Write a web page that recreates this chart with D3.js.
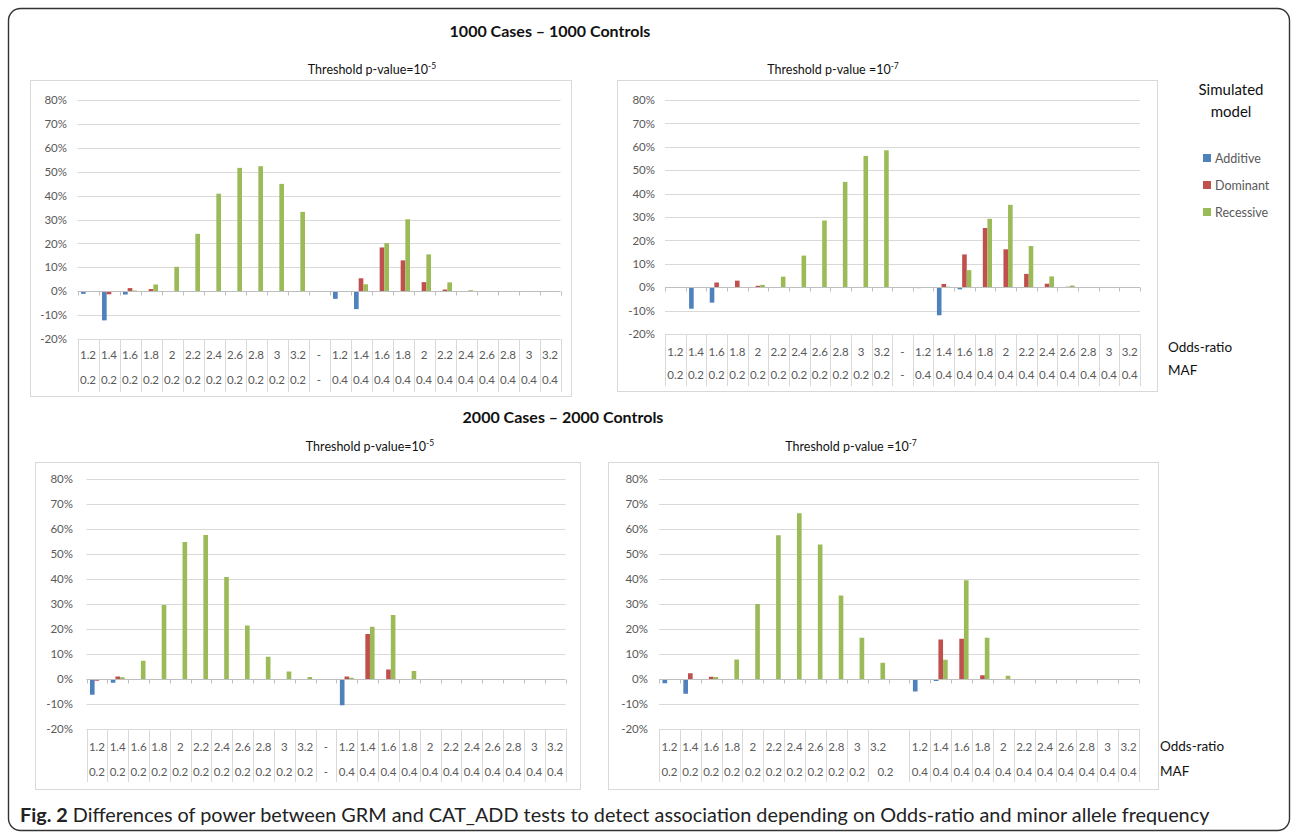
<!DOCTYPE html>
<html>
<head>
<meta charset="utf-8">
<script src="https://cdn.jsdelivr.net/npm/d3@7"></script>
<style>
  html, body { margin: 0; padding: 0; background: #fff; }
  svg { display: block; }
  text { font-family: Lato, "Open Sans", sans-serif; }
</style>
</head>
<body>
<svg id="fig" width="1292" height="835"></svg>
<script>
// ---- data (power difference, %) ----
const series = ["Additive", "Dominant", "Recessive"];
const colors = ["#4F81BD", "#C0504D", "#9BBB59"];

const oddsLabels = ["1.2","1.4","1.6","1.8","2","2.2","2.4","2.6","2.8","3","3.2","-",
                    "1.2","1.4","1.6","1.8","2","2.2","2.4","2.6","2.8","3","3.2"];
const mafLabels  = ["0.2","0.2","0.2","0.2","0.2","0.2","0.2","0.2","0.2","0.2","0.2","-",
                    "0.4","0.4","0.4","0.4","0.4","0.4","0.4","0.4","0.4","0.4","0.4"];
const yTicks = [-20, -10, 0, 10, 20, 30, 40, 50, 60, 70, 80];

// 1000 cases / 1000 controls, p = 1e-5
const n1000p5Additive  = [-1.1,-12.2,-1.4,0,0,0,0,0,0,0,0,0, -3.2,-7.5,0,0,0,0,0,0,0,0,0];
const n1000p5Dominant  = [-0.3,-1.3,1.3,0.9,0,0,0,0,0,0,0,0, 0,5.4,18.3,12.9,3.8,0.7,0,0,0,0,0];
const n1000p5Recessive = [0,0,0.3,2.8,10.2,24,40.8,51.6,52.3,44.9,33.2,0, 0,2.9,20.1,30.1,15.4,3.7,0.4,0.1,0.1,0.1,0.1];

// 1000 cases / 1000 controls, p = 1e-7
const n1000p7Additive  = [-0.1,-9.2,-6.6,-0.2,0,0,0,0,0,0,0,0, -0.4,-12,-0.9,0,0,0,0,0,0,0,0];
const n1000p7Dominant  = [0,-0.3,2,2.8,0.6,0,0,0,0,0,0,0, 0,1.4,14,25.3,16.2,5.7,1.5,0.2,0,0,0];
const n1000p7Recessive = [0,0,0,0,1,4.5,13.5,28.5,45,56.1,58.5,0, 0,0.2,7.3,29.2,35.2,17.6,4.6,0.7,0,0,0];

// 2000 cases / 2000 controls, p = 1e-5
const n2000p5Additive  = [-6.3,-1.5,0,0,0,0,0,0,0,0,0,0, -10.5,0,0,0,0,0,0,0,0,0,0];
const n2000p5Dominant  = [-0.7,1,0,0,0,0,0,0,0,0,0,0, 1,18,3.8,0,0,0,0,0,0,0,0];
const n2000p5Recessive = [0,0.7,7.3,29.6,54.8,57.6,40.8,21.4,8.9,3,0.8,0, 0.5,20.9,25.6,3.2,0,0,0,0,0,0,0];

// 2000 cases / 2000 controls, p = 1e-7
const n2000p7Additive  = [-1.7,-5.9,0,0,0,0,0,0,0,0,0,0, -5,-0.8,0,0,0,0,0,0,0,0,0];
const n2000p7Dominant  = [0,2.3,0.9,0,0,0,0,0,0,0,0,0, 0,15.8,16.1,1.5,0,0,0,0,0,0,0];
const n2000p7Recessive = [0,0,0.8,7.8,30,57.5,66.3,53.8,33.4,16.5,6.5,0, 0,7.7,39.5,16.5,1.3,0,0,0,0,0,0];

// ---- layout of the four panels ----
const panels = [
  { values: [n1000p5Additive, n1000p5Dominant, n1000p5Recessive],
    box: [30, 80, 541, 316], x0: 77.5, x1: 560.5, yTop: 100, yBot: 339,
    labelRight: 67, title: "Threshold p-value=10", sup: "-5", titleX: 372, titleY: 70,
    row1: 355, row2: 380, tableBottom: 392, mergeGap: false },
  { values: [n1000p7Additive, n1000p7Dominant, n1000p7Recessive],
    box: [617, 80, 540, 311], x0: 665, x1: 1140, yTop: 100, yBot: 334,
    labelRight: 655, title: "Threshold p-value =10", sup: "-7", titleX: 833, titleY: 70,
    row1: 352, row2: 375, tableBottom: 386, mergeGap: false },
  { values: [n2000p5Additive, n2000p5Dominant, n2000p5Recessive],
    box: [35, 462, 545, 327], x0: 86.5, x1: 565.5, yTop: 479, yBot: 729,
    labelRight: 73, title: "Threshold p-value=10", sup: "-5", titleX: 370, titleY: 447,
    row1: 747, row2: 772, tableBottom: 782, mergeGap: false },
  { values: [n2000p7Additive, n2000p7Dominant, n2000p7Recessive],
    box: [608, 462, 550, 327], x0: 659, x1: 1139, yTop: 479, yBot: 729,
    labelRight: 648, title: "Threshold p-value =10", sup: "-7", titleX: 851, titleY: 447,
    row1: 747, row2: 772, tableBottom: 782, mergeGap: true }
];

const svg = d3.select("#fig");

// outer frame
svg.append("rect")
  .attr("x", 8.5).attr("y", 8.5).attr("width", 1281).attr("height", 822)
  .attr("rx", 12).attr("ry", 12)
  .attr("fill", "none").attr("stroke", "#333").attr("stroke-width", 1.4);

// group headings
svg.append("text").attr("x", 550).attr("y", 37).attr("text-anchor", "middle")
  .attr("font-size", 16).attr("font-weight", "bold").attr("fill", "#111")
  .text("1000 Cases \u2013 1000 Controls");
svg.append("text").attr("x", 563).attr("y", 423).attr("text-anchor", "middle")
  .attr("font-size", 16).attr("font-weight", "bold").attr("fill", "#111")
  .text("2000 Cases \u2013 2000 Controls");

const pctLabel = d => d + "%";

panels.forEach(p => {
  const g = svg.append("g");

  // panel frame
  g.append("rect")
    .attr("x", p.box[0] + 0.5).attr("y", p.box[1] + 0.5)
    .attr("width", p.box[2]).attr("height", p.box[3])
    .attr("fill", "#fff").attr("stroke", "#D9D9D9").attr("stroke-width", 1);

  // title with superscript exponent
  const t = g.append("text").attr("x", p.titleX).attr("y", p.titleY + 4)
    .attr("text-anchor", "middle").attr("font-size", 12.5).attr("fill", "#111");
  t.append("tspan").text(p.title);
  t.append("tspan").attr("dy", -5).attr("font-size", 8.5).text(p.sup);

  const x = d3.scaleBand().domain(d3.range(oddsLabels.length)).range([p.x0, p.x1]).padding(0);
  const xs = d3.scaleBand().domain(series).range([0, x.bandwidth()])
    .paddingInner(0).paddingOuter(0.75);
  const y = d3.scaleLinear().domain([-20, 80]).range([p.yBot, p.yTop]);

  // horizontal gridlines
  g.append("g").selectAll("line").data(yTicks.filter(v => v !== 0)).join("line")
    .attr("x1", p.x0).attr("x2", p.x1)
    .attr("y1", d => Math.round(y(d)) + 0.5).attr("y2", d => Math.round(y(d)) + 0.5)
    .attr("stroke", "#D9D9D9").attr("stroke-width", 1);

  // y labels
  const yAxis = d3.axisLeft(y).tickValues(yTicks).tickSize(0).tickPadding(0)
    .tickFormat(pctLabel);
  const ya = g.append("g").attr("transform", `translate(${p.labelRight},0)`).call(yAxis);
  ya.select(".domain").remove();
  ya.selectAll("text").attr("font-size", 11.5).attr("fill", "#595959")
    .attr("font-family", "Lato, 'Open Sans', sans-serif");

  // category table below the plot
  const bounds = d3.range(oddsLabels.length + 1).map(i => i < oddsLabels.length ? x(i) : p.x1);
  g.append("g").selectAll("line")
    .data(bounds.filter((b, i) => !(p.mergeGap && i === 11))).join("line")
    .attr("x1", d => Math.round(d) + 0.5).attr("x2", d => Math.round(d) + 0.5)
    .attr("y1", p.yBot).attr("y2", p.tableBottom)
    .attr("stroke", "#D9D9D9").attr("stroke-width", 1);

  const odds = oddsLabels.map((s, i) => (p.mergeGap && i === 11) ? "" : s);
  g.append("g").selectAll("text").data(odds).join("text")
    .attr("x", (d, i) => x(i) + x.bandwidth() / 2).attr("y", p.row1 + 4)
    .attr("text-anchor", "middle").attr("font-size", 11.5).attr("fill", "#595959")
    .text(d => d);

  const mafCells = mafLabels.map((s, i) => ({ s, cx: x(i) + x.bandwidth() / 2 }))
    .filter((c, i) => !(p.mergeGap && (i === 10 || i === 11)));
  if (p.mergeGap) mafCells.push({ s: mafLabels[10], cx: x(10) + x.bandwidth() * 0.85 });
  g.append("g").selectAll("text").data(mafCells).join("text")
    .attr("x", d => d.cx).attr("y", p.row2 + 4)
    .attr("text-anchor", "middle").attr("font-size", 11.5).attr("fill", "#595959")
    .text(d => d.s);

  // bars
  series.forEach((s, si) => {
    g.append("g").selectAll("rect").data(p.values[si]).join("rect")
      .attr("x", (d, i) => x(i) + xs(s))
      .attr("width", xs.bandwidth())
      .attr("y", d => y(Math.max(0, d)))
      .attr("height", d => Math.abs(y(d) - y(0)))
      .attr("fill", colors[si]);
  });

  // zero axis with tick marks
  const y0 = Math.round(y(0)) + 0.5;
  g.append("line").attr("x1", p.x0).attr("x2", p.x1).attr("y1", y0).attr("y2", y0)
    .attr("stroke", "#BFBFBF").attr("stroke-width", 1);
  g.append("g").selectAll("line").data(bounds).join("line")
    .attr("x1", d => Math.round(d) + 0.5).attr("x2", d => Math.round(d) + 0.5)
    .attr("y1", y0).attr("y2", y0 + 4)
    .attr("stroke", "#BFBFBF").attr("stroke-width", 1);

  ya.raise();
});

// row captions for the category table
[[1168, 352, "Odds-ratio"], [1168, 375, "MAF"], [1160, 751, "Odds-ratio"], [1160, 776, "MAF"]]
  .forEach(([tx, ty, s]) => {
    svg.append("text").attr("x", tx).attr("y", ty).attr("font-size", 13.5)
      .attr("fill", "#111").text(s);
  });

// legend
svg.append("text").attr("x", 1231).attr("y", 95).attr("text-anchor", "middle")
  .attr("font-size", 15).attr("fill", "#111").text("Simulated");
svg.append("text").attr("x", 1231).attr("y", 117).attr("text-anchor", "middle")
  .attr("font-size", 15).attr("fill", "#111").text("model");
const leg = svg.append("g").selectAll("g").data(series).join("g")
  .attr("transform", (d, i) => `translate(1203,${158 + i * 27})`);
leg.append("rect").attr("x", 0).attr("y", -4).attr("width", 8).attr("height", 8)
  .attr("fill", (d, i) => colors[i]);
leg.append("text").attr("x", 12).attr("y", 4.5).attr("font-size", 12.5)
  .attr("fill", "#595959").text(d => d);

// figure caption
const cap = svg.append("text").attr("x", 20).attr("y", 822).attr("font-size", 19).attr("fill", "#222");
cap.append("tspan").attr("font-weight", "bold").text("Fig. 2");
cap.append("tspan").text(" Differences of power between GRM and CAT_ADD tests to detect association depending on Odds-ratio and minor allele frequency");
const w = cap.node().getComputedTextLength();
cap.attr("font-size", 19 * 1190 / w);
</script>
</body>
</html>
